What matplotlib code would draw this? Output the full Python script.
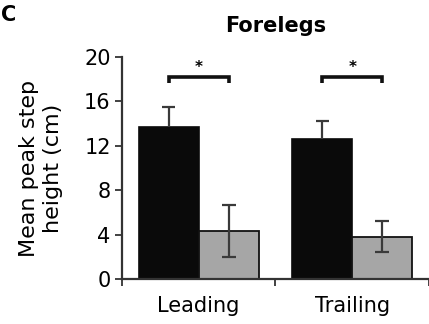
import matplotlib
matplotlib.use('Agg')
import matplotlib.pyplot as plt
import numpy as np

plt.rcParams['font.family'] = ['DejaVu Sans']

# data
groups = ['Leading', 'Trailing']
black_means = [13.7, 12.6]
black_err = [1.8, 1.65]
gray_means = [4.3, 3.8]
gray_err = [2.35, 1.4]
yticks = [0, 4, 8, 12, 16, 20]
sig_height = 18.2
sig_mark = '*'

fs = 15
fig = plt.figure(figsize=(4.29, 3.24), dpi=100)
ax = fig.add_axes([0.284, 0.139, 0.716, 0.685])

x = np.arange(len(groups))
w = 0.39
cap = 0.042
ax.bar(x - w / 2, black_means, w, color='#0a0a0a', edgecolor='#0a0a0a', linewidth=1.2, zorder=2)
# black bars: only the upper half of the error bar
bx = x - w / 2
btop = np.array(black_means) + np.array(black_err)
ax.vlines(bx, black_means, btop, color='#3a3a3a', lw=1.6, zorder=3)
ax.hlines(btop, bx - cap, bx + cap, color='#3a3a3a', lw=1.6, zorder=3)

ax.bar(x + w / 2, gray_means, w, color='#a6a6a6', edgecolor='#111111', linewidth=1.3, zorder=2)
ax.errorbar(x + w / 2, gray_means, yerr=gray_err, fmt='none',
            ecolor='#3a3a3a', elinewidth=1.6, capsize=4.7, capthick=1.6, zorder=3)

# significance brackets
for xi in x:
    x0, x1 = xi - w / 2, xi + w / 2
    ax.plot([x0, x0, x1, x1], [sig_height - 0.55, sig_height, sig_height, sig_height - 0.55],
            color='#111111', lw=2.6, solid_joinstyle='miter', solid_capstyle='butt', clip_on=False)
    ax.text(xi, sig_height + 0.15, sig_mark, ha='center', va='bottom', fontsize=11, fontweight='bold')

ax.set_xlim(-0.5, 1.5)
ax.set_ylim(0, 20)
ax.set_yticks(yticks)
ax.set_xticks(x)
ax.set_xticklabels(groups)
ax.set_xticks([-0.5, 0.5, 1.5], minor=True)
ax.tick_params(axis='x', which='major', length=0, pad=12, labelsize=fs)
ax.tick_params(axis='x', which='minor', length=5, width=1.3, direction='out', color='#333333')
ax.tick_params(axis='y', length=5, width=1.3, direction='out', color='#333333', labelsize=fs, pad=3)

for s in ['top', 'right']:
    ax.spines[s].set_visible(False)
for s in ['left', 'bottom']:
    ax.spines[s].set_linewidth(1.6)
    ax.spines[s].set_color('#333333')

ax.set_ylabel('Mean peak step\nheight (cm)', fontsize=16, linespacing=1.3)
ax.yaxis.set_label_coords(-0.19, 0.5)
ax.set_title('Forelegs', fontsize=fs, fontweight='bold', pad=18)

fig.text(0.003, 0.985, 'C', fontsize=fs, fontweight='bold', ha='left', va='top')

fig.savefig('out.png', dpi=100)
